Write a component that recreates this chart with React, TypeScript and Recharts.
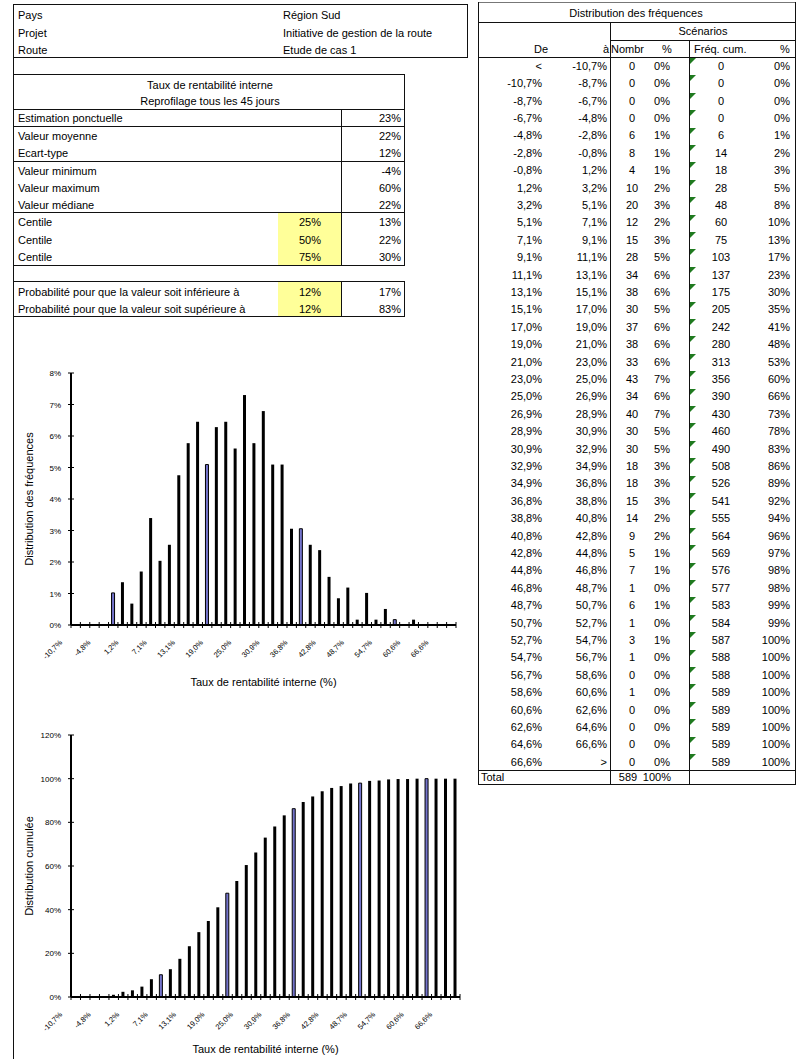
import React from "react";
import { BarChart, Bar, XAxis, YAxis, Cell } from "recharts";

// ---- header block ----
const HEAD_LABELS = ["Pays", "Projet", "Route"];
const HEAD_VALUES = ["Région Sud", "Initiative de gestion de la route", "Etude de cas 1"];

// ---- summary statistics ----
const STAT_LABELS = [
  "Estimation ponctuelle",
  "Valeur moyenne",
  "Ecart-type",
  "Valeur minimum",
  "Valeur maximum",
  "Valeur médiane",
];
const STAT_VALUES = ["23%", "22%", "12%", "-4%", "60%", "22%"];
const CENTILES = ["25%", "50%", "75%"];
const CENTILE_VALUES = ["13%", "22%", "30%"];
const PROB_LABELS = [
  "Probabilité pour que la valeur soit inférieure à",
  "Probabilité pour que la valeur soit supérieure à",
];
const PROB_THRESHOLDS = ["12%", "12%"];
const PROB_VALUES = ["17%", "83%"];

// ---- frequency distribution ----
const BIN_FROM = [
  "<", "-10,7%", "-8,7%", "-6,7%", "-4,8%", "-2,8%", "-0,8%", "1,2%", "3,2%", "5,1%",
  "7,1%", "9,1%", "11,1%", "13,1%", "15,1%", "17,0%", "19,0%", "21,0%", "23,0%", "25,0%",
  "26,9%", "28,9%", "30,9%", "32,9%", "34,9%", "36,8%", "38,8%", "40,8%", "42,8%", "44,8%",
  "46,8%", "48,7%", "50,7%", "52,7%", "54,7%", "56,7%", "58,6%", "60,6%", "62,6%", "64,6%",
  "66,6%",
];
const BIN_TO = [
  "-10,7%", "-8,7%", "-6,7%", "-4,8%", "-2,8%", "-0,8%", "1,2%", "3,2%", "5,1%", "7,1%",
  "9,1%", "11,1%", "13,1%", "15,1%", "17,0%", "19,0%", "21,0%", "23,0%", "25,0%", "26,9%",
  "28,9%", "30,9%", "32,9%", "34,9%", "36,8%", "38,8%", "40,8%", "42,8%", "44,8%", "46,8%",
  "48,7%", "50,7%", "52,7%", "54,7%", "56,7%", "58,6%", "60,6%", "62,6%", "64,6%", "66,6%",
  ">",
];
const COUNTS = [
  0, 0, 0, 0, 6, 8, 4, 10, 20, 12, 15, 28, 34, 38, 30, 37, 38, 33, 43, 34, 40, 30, 30, 18,
  18, 15, 14, 9, 5, 7, 1, 6, 1, 3, 1, 0, 1, 0, 0, 0, 0,
];
const COUNT_PCT = [
  0, 0, 0, 0, 1, 1, 1, 2, 3, 2, 3, 5, 6, 6, 5, 6, 6, 6, 7, 6, 7, 5, 5, 3, 3, 3, 2, 2, 1, 1,
  0, 1, 0, 1, 0, 0, 0, 0, 0, 0, 0,
];
const CUM_COUNTS = [
  0, 0, 0, 0, 6, 14, 18, 28, 48, 60, 75, 103, 137, 175, 205, 242, 280, 313, 356, 390, 430,
  460, 490, 508, 526, 541, 555, 564, 569, 576, 577, 583, 584, 587, 588, 588, 589, 589, 589,
  589, 589,
];
const CUM_PCT = [
  0, 0, 0, 0, 1, 2, 3, 5, 8, 10, 13, 17, 23, 30, 35, 41, 48, 53, 60, 66, 73, 78, 83, 86, 89,
  92, 94, 96, 97, 98, 98, 99, 99, 100, 100, 100, 100, 100, 100, 100, 100,
];
const TOTAL = 589;
const FREQ_TICKS = [0, 1, 2, 3, 4, 5, 6, 7, 8];
const CUM_TICKS = [0, 20, 40, 60, 80, 100, 120];

const freqData = BIN_TO.map((bin, i) => ({ bin, value: (COUNTS[i] / TOTAL) * 100 }));
const cumData = BIN_TO.map((bin, i) => ({ bin, value: (CUM_COUNTS[i] / TOTAL) * 100 }));

const FONT = '"Liberation Sans", Arial, sans-serif';
const BLUE = "#7474cc";

function Txt({ x, y, children, align = "left" }: any) {
  const base: React.CSSProperties = {
    position: "absolute",
    top: y - 8,
    height: 16,
    lineHeight: "16px",
    whiteSpace: "nowrap",
  };
  if (align === "right") return <div style={{ ...base, left: x - 300, width: 300, textAlign: "right" }}>{children}</div>;
  if (align === "center") return <div style={{ ...base, left: x - 200, width: 400, textAlign: "center" }}>{children}</div>;
  return <div style={{ ...base, left: x }}>{children}</div>;
}

function HL({ x1, x2, y, c = "#111" }: any) {
  return <div style={{ position: "absolute", left: x1, top: y, width: x2 - x1 + 1, height: 1, background: c }} />;
}
function VL({ x, y1, y2, c = "#111" }: any) {
  return <div style={{ position: "absolute", left: x, top: y1, width: 1, height: y2 - y1 + 1, background: c }} />;
}
function Box({ x1, x2, y1, y2, bg }: any) {
  return <div style={{ position: "absolute", left: x1, top: y1, width: x2 - x1, height: y2 - y1, background: bg }} />;
}

function makeBinTick(band: number) {
  return function BinTick(props: any) {
    const { x, y, index, payload } = props;
    const half = band / 2;
    const tx = x - 13;
    const ty = y + 18;
    return (
      <g>
        <line x1={x - half} x2={x - half} y1={y - 3} y2={y + 3} stroke="#000" />
        {index === BIN_TO.length - 1 && (
          <line x1={x + half} x2={x + half} y1={y - 3} y2={y + 3} stroke="#000" />
        )}
        {index % 3 === 0 && (
          <text
            x={tx}
            y={ty}
            textAnchor="end"
            fontSize={7.5}
            fontFamily={FONT}
            fill="#000"
            transform={`rotate(-45, ${tx}, ${ty})`}
          >
            {payload.value}
          </text>
        )}
      </g>
    );
  };
}

function PctTick(props: any) {
  const { x, y, payload } = props;
  return (
    <g>
      <line x1={x - 3} x2={x + 3} y1={y} y2={y} stroke="#000" />
      <text x={x - 10} y={y + 3} textAnchor="end" fontSize={8} fontFamily={FONT} fill="#000">
        {payload.value}%
      </text>
    </g>
  );
}

function DistChart({ data, width, height, margin, xHeight, domain, ticks, yTitle, titleOffset, highlight }: any) {
  const band = (width - margin.left - margin.right - 71) / data.length;
  return (
    <BarChart width={width} height={height} data={data} margin={margin}>
      <XAxis
        xAxisId="frame"
        orientation="top"
        height={0}
        tick={false}
        tickLine={false}
        axisLine={{ stroke: "#9a9a9a" }}
      />
      <YAxis
        yAxisId="frame"
        orientation="right"
        width={0}
        domain={[0, 1]}
        tick={false}
        tickLine={false}
        axisLine={{ stroke: "#9a9a9a" }}
      />
      <XAxis
        dataKey="bin"
        interval={0}
        height={xHeight}
        tickSize={0}
        tickMargin={0}
        tickLine={false}
        axisLine={{ stroke: "#000", strokeWidth: 2 }}
        tick={makeBinTick(band)}
        label={{
          value: "Taux de rentabilité interne (%)",
          position: "insideBottom",
          offset: titleOffset,
          style: { fontSize: 11, fontFamily: FONT, fill: "#000" },
        }}
      />
      <YAxis
        width={71}
        domain={domain}
        ticks={ticks}
        interval={0}
        tickSize={0}
        tickMargin={0}
        tickLine={false}
        axisLine={{ stroke: "#000", strokeWidth: 2 }}
        tick={PctTick}
        label={{
          value: yTitle,
          angle: -90,
          position: "insideLeft",
          offset: 29,
          style: { textAnchor: "middle", fontSize: 11, fontFamily: FONT, fill: "#000" },
        }}
      />
      <Bar dataKey="value" barSize={3} isAnimationActive={false}>
        {data.map((_: any, i: number) => (
          <Cell
            key={i}
            fill={highlight(i) ? BLUE : "#000"}
            stroke={highlight(i) ? "#000" : "none"}
            strokeWidth={1}
          />
        ))}
      </Bar>
    </BarChart>
  );
}

export default function App() {
  const rowTop = (i: number) => 57 + i * 17.4;
  return (
    <div
      style={{
        position: "absolute",
        left: 0,
        top: 0,
        width: 810,
        height: 1059,
        background: "#fff",
        overflow: "hidden",
        fontFamily: FONT,
        fontSize: 11,
        color: "#000",
      }}
    >
      {/* yellow input cells */}
      <Box x1={278} x2={341} y1={213} y2={265} bg="#ffff99" />
      <Box x1={278} x2={341} y1={282} y2={316} bg="#ffff99" />

      {/* left block frame */}
      <VL x={13} y1={4} y2={1059} />
      <HL x1={13} x2={467} y={4} />
      <HL x1={13} x2={467} y={57} />
      <VL x={467} y1={4} y2={57} />
      {HEAD_LABELS.map((t, i) => (
        <Txt key={t} x={18} y={15 + i * 17.5}>{t}</Txt>
      ))}
      {HEAD_VALUES.map((t, i) => (
        <Txt key={t} x={283} y={15 + i * 17.5}>{t}</Txt>
      ))}

      {/* statistics table */}
      {[74, 109, 126, 161, 212, 265, 281, 316].map((y) => (
        <HL key={y} x1={13} x2={404} y={y} />
      ))}
      <VL x={404} y1={74} y2={265} />
      <VL x={341} y1={109} y2={265} />
      <VL x={404} y1={281} y2={316} />
      <VL x={341} y1={281} y2={316} />
      <Txt x={210} y={85} align="center">Taux de rentabilité interne</Txt>
      <Txt x={210} y={101} align="center">Reprofilage tous les 45 jours</Txt>
      {STAT_LABELS.map((t, i) => {
        const y = [118, 136, 153, 171, 188, 205][i];
        return (
          <React.Fragment key={t}>
            <Txt x={18} y={y}>{t}</Txt>
            <Txt x={401} y={y} align="right">{STAT_VALUES[i]}</Txt>
          </React.Fragment>
        );
      })}
      {CENTILES.map((c, i) => {
        const y = 222 + i * 17.5;
        return (
          <React.Fragment key={c}>
            <Txt x={18} y={y}>Centile</Txt>
            <Txt x={321} y={y} align="right">{c}</Txt>
            <Txt x={401} y={y} align="right">{CENTILE_VALUES[i]}</Txt>
          </React.Fragment>
        );
      })}
      {PROB_LABELS.map((t, i) => {
        const y = 292 + i * 17;
        return (
          <React.Fragment key={t}>
            <div style={{ position: "absolute", left: 18, top: y - 8, width: 259, height: 16, lineHeight: "16px", overflow: "hidden", whiteSpace: "nowrap" }}>{t}</div>
            <Txt x={321} y={y} align="right">{PROB_THRESHOLDS[i]}</Txt>
            <Txt x={401} y={y} align="right">{PROB_VALUES[i]}</Txt>
          </React.Fragment>
        );
      })}

      {/* frequency table */}
      <HL x1={478} x2={795} y={2} c="#777" />
      <HL x1={478} x2={795} y={22} />
      <HL x1={610} x2={795} y={40} />
      <HL x1={478} x2={795} y={57} />
      <HL x1={478} x2={795} y={770} />
      <HL x1={478} x2={795} y={784} />
      <VL x={478} y1={2} y2={784} />
      <VL x={795} y1={2} y2={784} />
      <VL x={610} y1={22} y2={784} />
      <VL x={689} y1={40} y2={784} />
      <Txt x={636} y={13} align="center">Distribution des fréquences</Txt>
      <Txt x={703} y={31} align="center">Scénarios</Txt>
      <Txt x={548} y={49} align="right">De</Txt>
      <Txt x={609} y={49} align="right">à</Txt>
      <Txt x={611} y={49}>Nombr</Txt>
      <Txt x={667} y={49} align="center">%</Txt>
      <Txt x={694} y={49}>Fréq. cum.</Txt>
      <Txt x={785} y={49} align="center">%</Txt>
      {BIN_FROM.map((from, i) => {
        const y = rowTop(i) + 8.7;
        return (
          <React.Fragment key={i}>
            <Txt x={542} y={y} align="right">{from}</Txt>
            <Txt x={607} y={y} align="right">{BIN_TO[i]}</Txt>
            <Txt x={632} y={y} align="center">{COUNTS[i]}</Txt>
            <Txt x={670} y={y} align="right">{COUNT_PCT[i]}%</Txt>
            <Txt x={721} y={y} align="center">{CUM_COUNTS[i]}</Txt>
            <Txt x={790} y={y} align="right">{CUM_PCT[i]}%</Txt>
            <div
              style={{
                position: "absolute",
                left: 690,
                top: rowTop(i) + 1,
                width: 0,
                height: 0,
                borderTop: "6px solid #1f7a1f",
                borderRight: "6px solid transparent",
              }}
            />
          </React.Fragment>
        );
      })}
      <Txt x={481} y={777}>Total</Txt>
      <Txt x={628} y={777} align="center">{TOTAL}</Txt>
      <Txt x={671} y={777} align="right">100%</Txt>

      {/* charts */}
      <div style={{ position: "absolute", left: 0, top: 360 }}>
        <DistChart
          data={freqData}
          width={470}
          height={340}
          margin={{ top: 13, right: 14, bottom: 0, left: 0 }}
          xHeight={75}
          domain={[0, 8]}
          ticks={FREQ_TICKS}
          yTitle="Distribution des fréquences"
          titleOffset={14}
          highlight={(i: number) => i % 10 === 4}
        />
      </div>
      <div style={{ position: "absolute", left: 0, top: 722 }}>
        <DistChart
          data={cumData}
          width={470}
          height={337}
          margin={{ top: 13, right: 10, bottom: 0, left: 0 }}
          xHeight={62}
          domain={[0, 120]}
          ticks={CUM_TICKS}
          yTitle="Distribution cumulée"
          titleOffset={6}
          highlight={(i: number) => i % 7 === 2}
        />
      </div>
    </div>
  );
}
